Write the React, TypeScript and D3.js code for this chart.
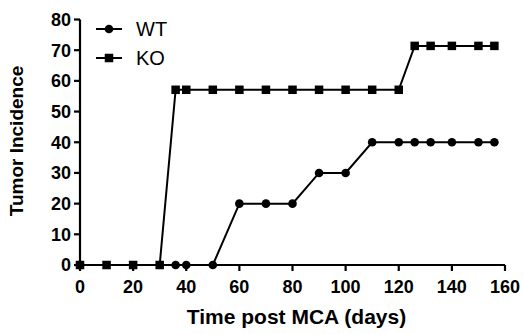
import React from "react";
import * as d3 from "d3";

const wtDays = [0, 36, 40, 50, 60, 70, 80, 90, 100, 110, 120, 126, 132, 140, 150, 156];
const wtValues = [0, 0, 0, 0, 20, 20, 20, 30, 30, 40, 40, 40, 40, 40, 40, 40];
const koDays = [0, 10, 20, 30, 36, 40, 50, 60, 70, 80, 90, 100, 110, 120, 126, 132, 140, 150, 156];
const koValues = [0, 0, 0, 0, 57.1, 57.1, 57.1, 57.1, 57.1, 57.1, 57.1, 57.1, 57.1, 57.1, 71.4, 71.4, 71.4, 71.4, 71.4];
const xTicks = [0, 20, 40, 60, 80, 100, 120, 140, 160];
const yTicks = [0, 10, 20, 30, 40, 50, 60, 70, 80];
const seriesNames = ["WT", "KO"];

const FONT = "'Liberation Sans', Arial, Helvetica, sans-serif";

export default function App() {
  const W = 524, H = 334;
  const x = d3.scaleLinear().domain([0, 160]).range([80, 505]);
  const y = d3.scaleLinear().domain([0, 80]).range([265, 19.5]);
  const line = d3.line<[number, number]>().x(d => x(d[0])).y(d => y(d[1]));
  const wt: [number, number][] = wtDays.map((d, i) => [d, wtValues[i]]);
  const ko: [number, number][] = koDays.map((d, i) => [d, koValues[i]]);
  const sq = 8.5;
  const r = 4.3;
  return (
    <svg width={W} height={H} style={{ position: "absolute", left: 0, top: 0, background: "#fff" }}>
      <rect width={W} height={H} fill="#fff" />
      {/* axes */}
      <g stroke="#000" strokeWidth={2.2} fill="none">
        <line x1={x(0)} x2={x(0)} y1={y(80)} y2={y(0) + 1} />
        <line x1={x(0) - 1} x2={x(160)} y1={y(0)} y2={y(0)} />
        {yTicks.map(t => (
          <line key={"yt" + t} x1={x(0) - 6} x2={x(0)} y1={y(t)} y2={y(t)} />
        ))}
        {xTicks.map(t => (
          <line key={"xt" + t} x1={x(t)} x2={x(t)} y1={y(0)} y2={y(0) + 6} />
        ))}
      </g>
      <g fontFamily={FONT} fontWeight="bold" fill="#000">
        {yTicks.map(t => (
          <text key={"yl" + t} x={x(0) - 9} y={y(t)} dy="0.36em" textAnchor="end" fontSize={18}>{t}</text>
        ))}
        {xTicks.map(t => (
          <text key={"xl" + t} x={x(t)} y={293} textAnchor="middle" fontSize={18}>{t}</text>
        ))}
        <text x={296.5} y={324} textAnchor="middle" fontSize={21}>Time post MCA (days)</text>
        <text transform={`translate(23,141) rotate(-90)`} textAnchor="middle" fontSize={19}>Tumor Incidence</text>
      </g>
      {/* KO series */}
      <path d={line(ko) || ""} fill="none" stroke="#000" strokeWidth={2} />
      {ko.map((p, i) => (
        <rect key={"ko" + i} x={x(p[0]) - sq / 2} y={y(p[1]) - sq / 2} width={sq} height={sq} fill="#000" />
      ))}
      {/* WT series */}
      <path d={line(wt) || ""} fill="none" stroke="#000" strokeWidth={2} />
      {wt.map((p, i) => (
        <circle key={"wt" + i} cx={x(p[0])} cy={y(p[1])} r={r} fill="#000" />
      ))}
      {/* legend */}
      <g>
        <line x1={96} x2={122} y1={29} y2={29} stroke="#000" strokeWidth={2} />
        <circle cx={109} cy={29} r={r} fill="#000" />
        <line x1={96} x2={122} y1={58} y2={58} stroke="#000" strokeWidth={2} />
        <rect x={109 - sq / 2} y={58 - sq / 2} width={sq} height={sq} fill="#000" />
        <text x={136} y={29} dy="0.36em" fontFamily={FONT} fontSize={20} fill="#000">{seriesNames[0]}</text>
        <text x={136} y={58} dy="0.36em" fontFamily={FONT} fontSize={20} fill="#000">{seriesNames[1]}</text>
      </g>
    </svg>
  );
}
